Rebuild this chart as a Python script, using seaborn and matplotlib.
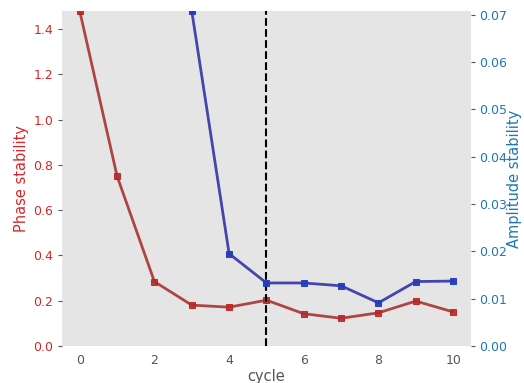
import numpy as np
import pandas as pd
import matplotlib
matplotlib.use("Agg")
import matplotlib.pyplot as plt
import seaborn as sns

cycles = list(range(11))
phase_stability = [1.48, 0.75, 0.284, 0.180, 0.171, 0.202, 0.142, 0.122, 0.146, 0.198, 0.150]
cycles_amp = [3, 4, 5, 6, 7, 8, 9, 10]
amplitude_stability = [0.0708, 0.0195, 0.0133, 0.0133, 0.0127, 0.0091, 0.0136, 0.0137]
cutoff_cycle = 5

sns.set_style("white")
plt.rcParams['font.family'] = ['DejaVu Sans']

df_phase = pd.DataFrame({"cycle": cycles, "phase": phase_stability})
df_amp = pd.DataFrame({"cycle": cycles_amp, "amp": amplitude_stability})

fig, ax = plt.subplots(figsize=(5.24, 3.83), dpi=100)
ax.set_facecolor("#e5e5e5")
ax2 = ax.twinx()

sns.lineplot(data=df_phase, x="cycle", y="phase", ax=ax, color="#a83434", alpha=0.9,
             linewidth=2, marker="s", markersize=4, markeredgecolor="#c02020",
             markerfacecolor="#b52a2a", clip_on=True)
sns.lineplot(data=df_amp, x="cycle", y="amp", ax=ax2, color="#3c3ca8", alpha=0.95,
             linewidth=2, marker="s", markersize=4, markeredgecolor="#2040c0",
             markerfacecolor="#2a3ab5")
ax.axvline(cutoff_cycle, color="black", linestyle="--", linewidth=1.5, zorder=5)

ax.set_xlim(-0.48, 10.48)
ax.set_ylim(0, 1.48)
ax2.set_ylim(0, 0.0708)
ax.set_xticks([0, 2, 4, 6, 8, 10])

ax.set_xlabel("cycle", fontsize=10.5, color="#555555", labelpad=1)
ax.set_ylabel("Phase stability", fontsize=10.5, color="#d62728", labelpad=3)
ax2.set_ylabel("Amplitude stability", fontsize=10.5, color="#1f77b4", labelpad=0)
ax.tick_params(axis="y", colors="#555555", labelcolor="#d62728", labelsize=9, length=3, pad=3)
ax.tick_params(axis="x", colors="#555555", labelcolor="#555555", labelsize=9, length=3, pad=3)
ax2.tick_params(axis="y", colors="#555555", labelcolor="#1f77b4", labelsize=9, length=3, pad=3)
ax2.set_yticks(np.arange(0, 0.0701, 0.01))
ax2.set_yticklabels([f"{v:.2f}" for v in np.arange(0, 0.0701, 0.01)])

for a in (ax, ax2):
    for s in a.spines.values():
        s.set_visible(False)

fig.subplots_adjust(left=0.118, right=0.899, top=0.971, bottom=0.097)
fig.savefig("out.png", dpi=100)
